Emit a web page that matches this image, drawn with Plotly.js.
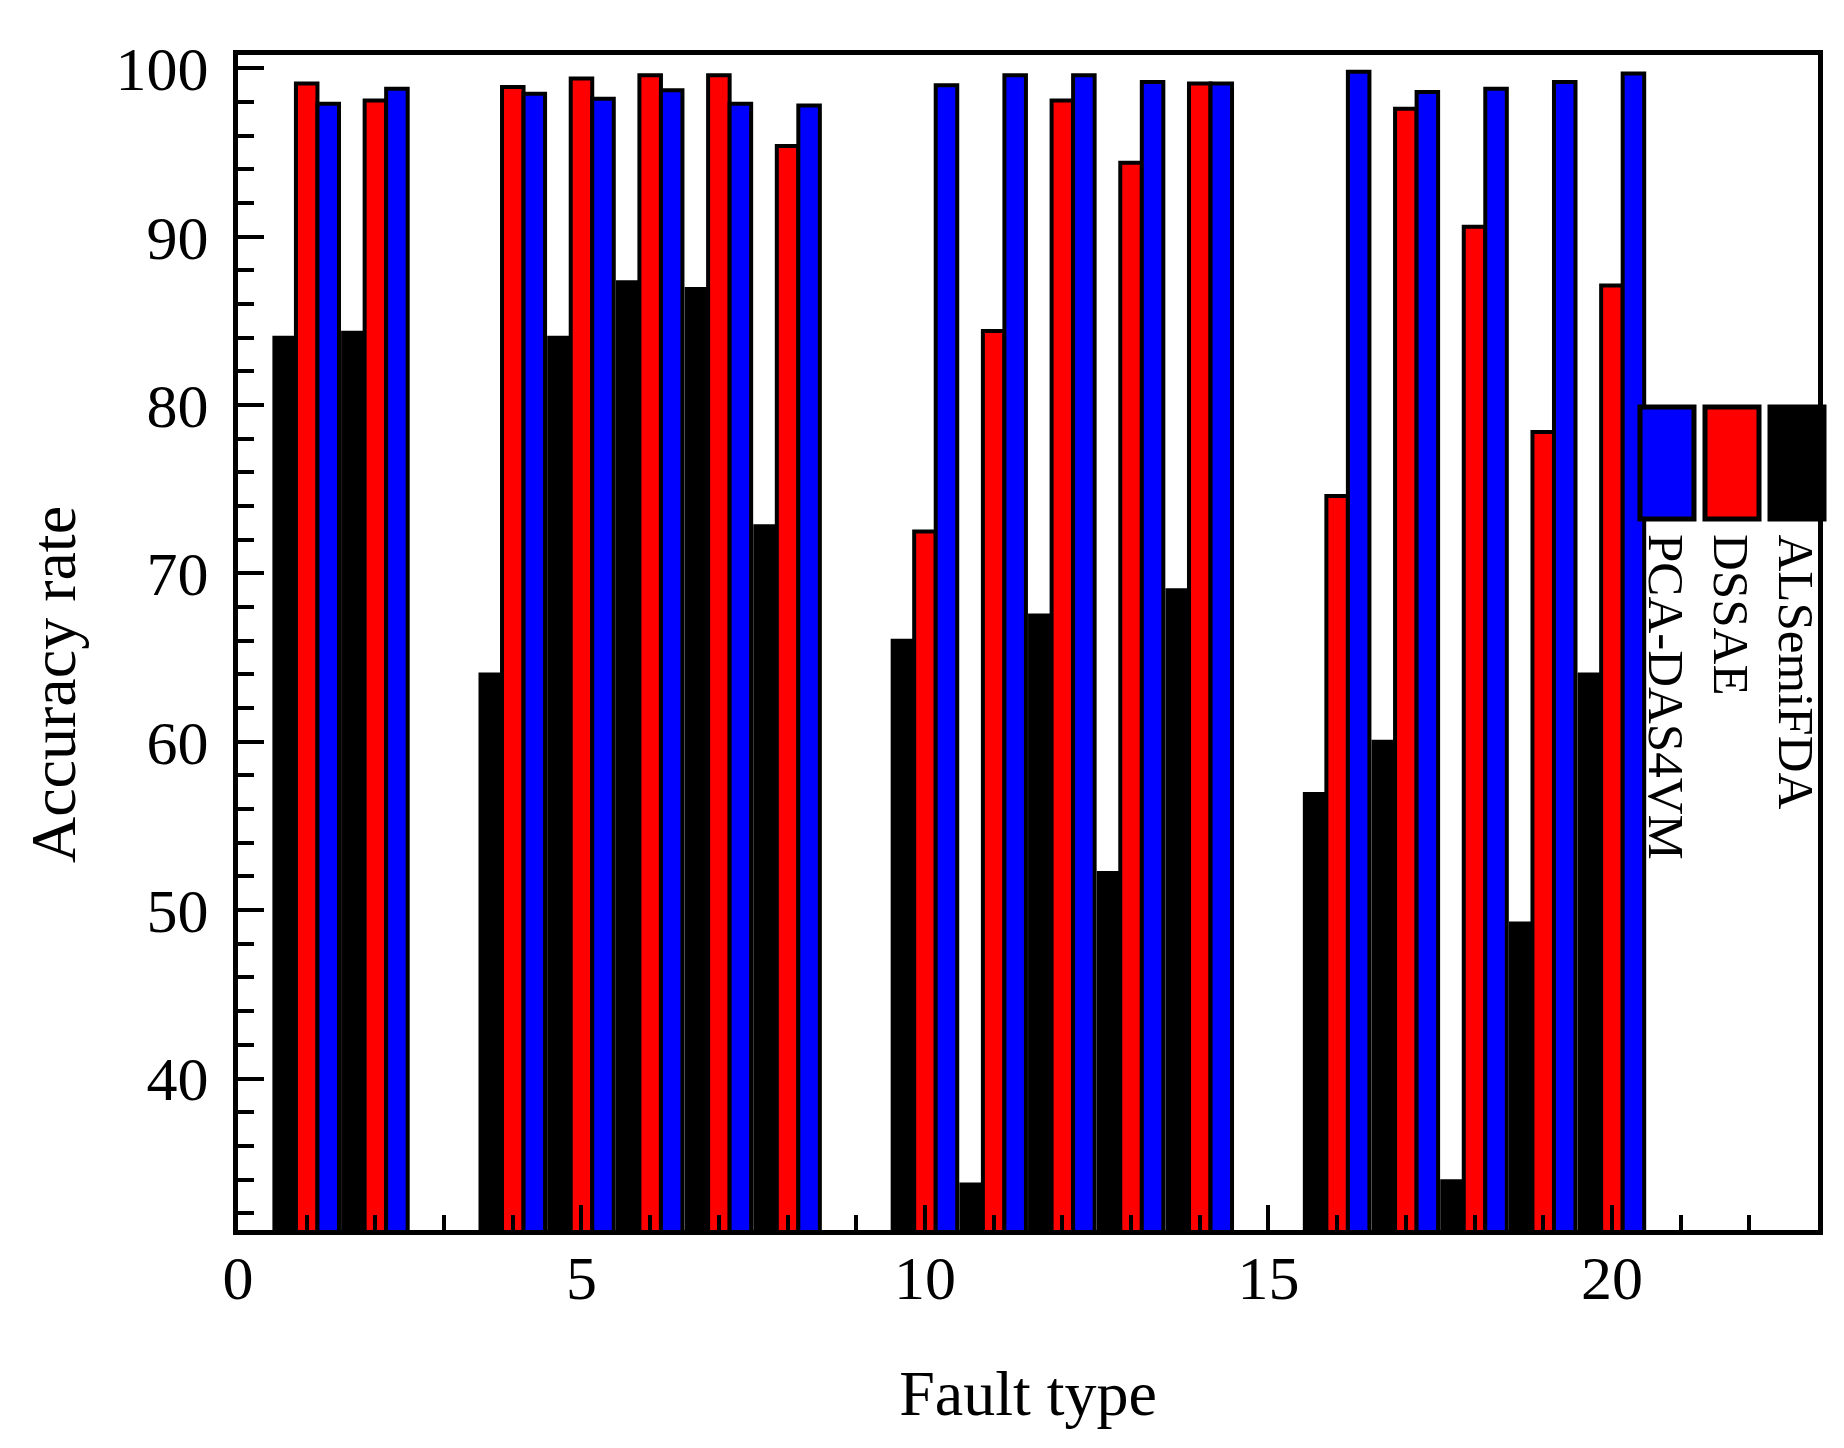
<!DOCTYPE html>
<html>
<head>
<meta charset="utf-8">
<script src="https://cdn.plot.ly/plotly-3.0.1.min.js"></script>
<style>
  html, body { margin: 0; padding: 0; background: #fff; }
  #chart { width: 1844px; height: 1448px; }
</style>
</head>
<body>
<div id="chart"></div>
<script>
// fault types 3, 9 and 15 are left out
const faultTypes = [1, 2, 4, 5, 6, 7, 8, 10, 11, 12, 13, 14, 16, 17, 18, 19, 20];

const alSemiFDA = [84.0, 84.3, 64.0, 84.0, 87.3, 86.9, 72.8, 66.0, 33.7, 67.5, 52.2, 69.0, 56.9, 60.0, 33.9, 49.2, 64.0];
const dssae     = [99.1, 98.1, 98.9, 99.4, 99.6, 99.6, 95.4, 72.5, 84.4, 98.1, 94.4, 99.1, 74.6, 97.6, 90.6, 78.4, 87.1];
const pcaDas4vm = [97.9, 98.8, 98.5, 98.2, 98.7, 97.9, 97.8, 99.0, 99.6, 99.6, 99.2, 99.1, 99.8, 98.6, 98.8, 99.2, 99.7];

const seriesNames  = ['ALSemiFDA', 'DSSAE', 'PCA-DAS4VM'];
const seriesColors = ['#000000', '#ff0000', '#0000ff'];
const seriesValues = [alSemiFDA, dssae, pcaDas4vm];

const xTitle = 'Fault type';
const yTitle = 'Accuracy rate';

const W = 1844, H = 1448;
const margin = {l: 238, r: 26, t: 55, b: 218};
const font = 'Liberation Serif, Times New Roman, serif';

// pixel -> paper helpers for the hand-placed legend
const plotW = W - margin.l - margin.r;
const plotH = H - margin.t - margin.b;
const px = x => (x - margin.l) / plotW;
const py = y => 1 - (y - margin.t) / plotH;

const data = seriesNames.map((name, i) => ({
    type: 'bar',
    name: name,
    x: faultTypes,
    y: seriesValues[i],
    marker: {color: seriesColors[i], line: {color: '#000', width: 4}},
    showlegend: false
}));

// legend: swatches side by side, labels rotated below them (blue, red, black)
const legendOrder = [2, 1, 0];
const swatchLeft = [1640, 1705, 1770];
const shapes = [];
const annotations = [];
legendOrder.forEach((s, k) => {
    shapes.push({
        type: 'rect', xref: 'paper', yref: 'paper', layer: 'above',
        x0: px(swatchLeft[k]), x1: px(swatchLeft[k] + 54),
        y0: py(407), y1: py(519),
        fillcolor: seriesColors[s],
        line: {color: '#000', width: 5}
    });
    annotations.push({
        xref: 'paper', yref: 'paper',
        x: px(swatchLeft[k] + 26), y: py(532),
        xanchor: 'center', yanchor: 'top',
        text: seriesNames[s], textangle: 90, showarrow: false,
        font: {family: font, size: 51, color: '#000'}
    });
});

annotations.push({
    xref: 'paper', yref: 'paper',
    x: px(53), y: py(685),
    xanchor: 'center', yanchor: 'middle',
    text: yTitle, textangle: -90, showarrow: false,
    font: {family: font, size: 64, color: '#000'}
});

const layout = {
    width: W,
    height: H,
    margin: margin,
    paper_bgcolor: '#fff',
    plot_bgcolor: '#fff',
    barmode: 'group',
    bargap: 0.06,
    bargroupgap: 0,
    showlegend: false,
    font: {family: font, color: '#000'},
    xaxis: {
        range: [0, 23],
        tick0: 0,
        dtick: 5,
        ticks: 'inside',
        ticklen: 25,
        tickwidth: 4,
        tickcolor: '#000',
        showline: true,
        linewidth: 5,
        linecolor: '#000',
        mirror: true,
        showgrid: false,
        zeroline: false,
        ticklabelstandoff: -10,
        tickfont: {family: font, size: 62, color: '#000'},
        minor: {dtick: 1, tick0: 0, ticks: 'inside', ticklen: 15, tickwidth: 4, tickcolor: '#000', showgrid: false},
        title: {text: xTitle, standoff: 60, font: {family: font, size: 64, color: '#000'}}
    },
    yaxis: {
        range: [31, 100.8],
        tick0: 0,
        dtick: 10,
        ticks: 'inside',
        ticklen: 26,
        tickwidth: 4,
        tickcolor: '#000',
        showline: true,
        linewidth: 5,
        linecolor: '#000',
        mirror: true,
        showgrid: false,
        zeroline: false,
        ticklabelstandoff: 12,
        tickfont: {family: font, size: 62, color: '#000'},
        minor: {dtick: 2, tick0: 0, ticks: 'inside', ticklen: 16, tickwidth: 4, tickcolor: '#000', showgrid: false}
    },
    shapes: shapes,
    annotations: annotations
};

Plotly.newPlot('chart', data, layout, {displayModeBar: false, staticPlot: true});
</script>
</body>
</html>
